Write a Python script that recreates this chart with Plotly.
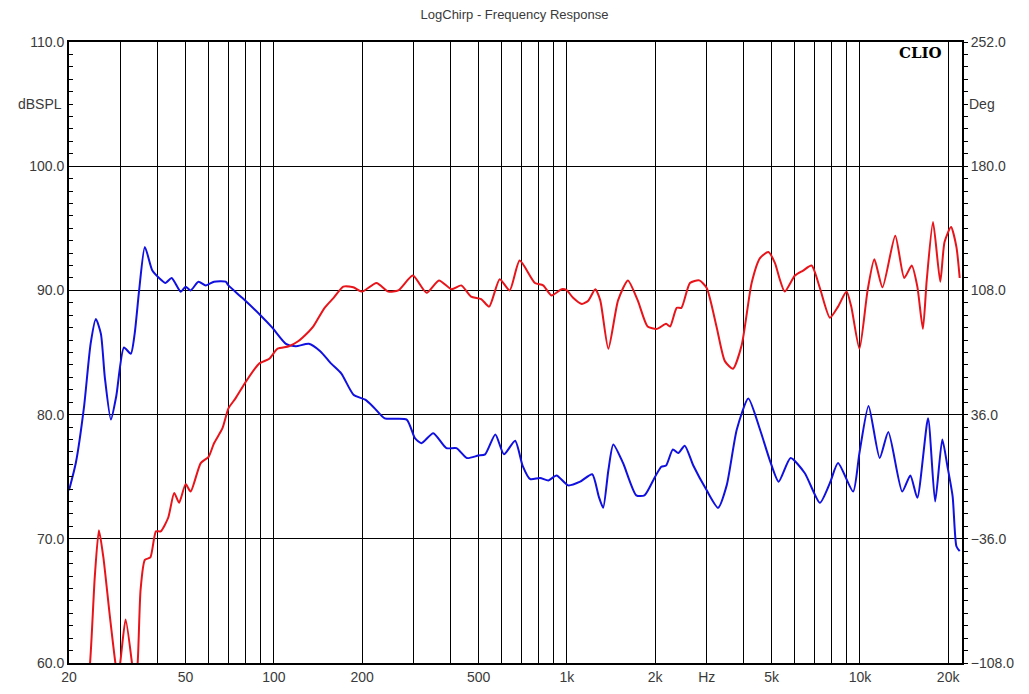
import math
import plotly.graph_objects as go

# SPL (blue, left axis, dBSPL)
spl_freq = [20, 21.1, 22.5, 23.7, 24.7, 25.7, 26.5, 27.8, 29, 30.8, 32.5, 33.5, 34.7, 36.3, 38.5,
            40.6, 42.7, 44.8, 48.1, 50, 52, 55.3, 58.6, 62.5, 68.5, 70, 78, 90, 98.8, 110, 118.8,
            131.7, 144, 157, 170, 187, 205, 219, 239, 284, 303, 319, 350, 388, 420, 456, 498, 526,
            570, 610, 666, 706, 750, 810, 865, 922, 1010, 1110, 1220, 1285, 1330, 1385, 1440, 1555,
            1725, 1840, 2000, 2100, 2180, 2300, 2400, 2525, 2700, 3000, 3280, 3510, 3800, 4160,
            4560, 4930, 5280, 5800, 6480, 7300, 7900, 8420, 9480, 9960, 10700, 11680, 12500,
            13940, 14860, 15700, 17080, 18060, 19100, 19900, 20720, 21340, 21900]
spl_db = [73.9, 76.1, 80.6, 85.7, 87.7, 86.5, 83.0, 79.6, 81.5, 85.4, 84.9, 86.5, 90.0, 93.5, 91.6,
          91.0, 90.6, 91.0, 89.9, 90.3, 90.0, 90.7, 90.4, 90.7, 90.7, 90.4, 89.4, 88.0, 87.0, 85.7, 85.5,
          85.7, 85.1, 84.1, 83.3, 81.6, 81.2, 80.6, 79.7, 79.6, 78.1, 77.7, 78.5, 77.3, 77.3, 76.5, 76.7, 76.8,
          78.4, 76.8, 77.9, 75.9, 74.8, 74.9, 74.7, 75.1, 74.3, 74.6, 75.2, 73.4, 72.5, 75.5, 77.6, 76.1,
          73.5, 73.5, 75.0, 75.8, 75.9, 77.2, 76.9, 77.5, 75.9, 73.9, 72.5, 74.3, 78.8, 81.3,
          78.8, 76.3, 74.6, 76.5, 75.3, 72.9, 74.5, 76.1, 73.8, 76.9, 80.7, 76.5, 78.6,
          73.8, 75.1, 73.3, 79.7, 73.0, 78.0, 75.8, 73.4, 69.4, 69.0]

# Phase (red, right axis, degrees)
ph_freq = [20, 22.5, 23.6, 24.5, 25.3, 26.2, 27.5, 28.8, 29.3, 29.9, 31.2, 32.8, 33.5, 34.3, 35.1,
           36.3, 37.9, 39.6, 41.1, 43.6, 45.7, 47.5, 50, 52, 56.3, 59.9, 62.5, 66.8, 70, 74, 80, 89,
           96.5, 103, 112.6, 121, 131.7, 136.4, 149, 160, 172.6, 186.6, 200, 224, 246, 266, 298, 332,
           366, 404, 436, 471, 510, 543, 590, 638, 690, 778, 830, 886, 960, 1000, 1050, 1125, 1185,
           1250, 1300, 1385, 1495, 1615, 1745, 1885, 2030, 2180, 2250, 2370, 2460, 2630, 2830, 3000,
           3240, 3460, 3690, 3950, 4270, 4560, 4870, 5130, 5310, 5540, 6000, 6400, 6840, 7300, 7900,
           8420, 9000, 9340, 9960, 10620, 11200, 11940, 13200, 14160, 15020, 15700, 16400, 16900,
           17760, 18800, 19440, 20460, 21340, 21900]
ph_deg = [-170, -140, -108, -57.6, -31.0, -46.8, -79.2, -108, -115.2, -108, -82.8, -108, -122.4, -108, -65.5,
          -48.2, -46.8, -31.7, -31.7, -23.8, -9.4, -15.1, -4.3, -8.6, 7.9, 11.5, 19.4, 28.1, 39.6, 45.4, 54.7, 65.5,
          68.4, 74.2, 75.6, 78.5, 84.2, 87.1, 97.9, 103.7, 110.2, 109.8, 107.3, 112.3, 107.3, 108.0, 116.6, 106.6,
          113.8, 108.7, 110.9, 104.4, 103.0, 98.6, 114.5, 108.0, 125.3, 112.3, 110.9, 105.1, 108.7, 108.0, 103.7, 100.1, 102.2,
          108.7, 102.2, 74.2, 102.2, 113.8, 102.2, 87.1, 85.7, 88.6, 87.1, 97.9, 97.9, 112.3, 113.8, 109.4,
          87.1, 67.0, 62.6, 76.3, 112.3, 126.7, 130.3, 123.8, 115.2, 107.3, 116.6, 119.5, 122.4, 109.4, 92.2,
          98.6, 107.3, 98.6, 74.2, 108.0, 126.0, 109.8, 139.7, 115.2, 122.4, 110.2, 85.7, 113.8,
          147.6, 113.0, 136.1, 144.7, 133.2, 115.2]

x_tickvals = [20, 50, 100, 200, 500, 1000, 2000, 3000, 5000, 10000, 20000]
x_ticktext = ["20", "50", "100", "200", "500", "1k", "2k", "Hz", "5k", "10k", "20k"]
x_gridvals = [30, 40, 60, 70, 80, 90, 300, 400, 600, 700, 800, 900,
              4000, 6000, 7000, 8000, 9000]
deg_ticks = [-108, -36, 36, 108, 180, 252]

FONT = "Liberation Sans, Arial, sans-serif"
TXT = "#3a3a3a"

fig = go.Figure()
fig.add_trace(go.Scatter(x=ph_freq, y=ph_deg, mode="lines", yaxis="y2",
                         line=dict(color="#e8141a", width=2, shape="spline", smoothing=0.6),
                         showlegend=False, hoverinfo="skip"))
fig.add_trace(go.Scatter(x=spl_freq, y=spl_db, mode="lines",
                         line=dict(color="#1010e0", width=2, shape="spline", smoothing=0.6),
                         showlegend=False, hoverinfo="skip"))

fig.update_layout(
    width=1029, height=694,
    margin=dict(l=69, r=67, t=42, b=31, autoexpand=False),
    paper_bgcolor="white", plot_bgcolor="white",
    font=dict(family=FONT, size=14, color=TXT),
    title=dict(text="LogChirp - Frequency Response", x=0.5, xanchor="center",
               y=1 - 14 / 694, yanchor="middle", font=dict(size=13, color=TXT)),
    xaxis=dict(type="log", range=[math.log10(20), math.log10(22300)],
               tickmode="array", tickvals=x_tickvals, ticktext=x_ticktext,
               showgrid=True, gridcolor="#000000", gridwidth=1,
               minor=dict(tickmode="array", tickvals=x_gridvals, showgrid=True,
                          gridcolor="#000000", gridwidth=1, ticks=""),
               ticks="", showline=True, linecolor="#000000", linewidth=2, mirror=True,
               zeroline=False, tickfont=dict(size=14, color=TXT)),
    yaxis=dict(range=[60, 110], tickmode="linear", tick0=60, dtick=10, tickformat=".1f",
               showgrid=True, gridcolor="#000000", gridwidth=1,
               ticks="inside", ticklen=4, tickcolor="#000000",
               minor=dict(dtick=1, ticks="inside", ticklen=4, tickcolor="#000000", showgrid=False),
               showline=True, linecolor="#000000", linewidth=2, mirror=True,
               zeroline=False, tickfont=dict(size=14, color=TXT)),
    yaxis2=dict(range=[-108, 252], overlaying="y", side="right",
                tickmode="array", tickvals=deg_ticks, tickformat=".1f",
                showgrid=False, ticks="outside", ticklen=5, tickcolor="#000000",
                minor=dict(tickmode="linear", tick0=-108, dtick=7.2, ticks="outside",
                           ticklen=5, tickcolor="#000000", showgrid=False),
                showline=False, zeroline=False, tickfont=dict(size=14, color=TXT)),
)

fig.add_annotation(text="dBSPL", xref="paper", x=0, xanchor="right", xshift=-5,
                   yref="y", y=105, yanchor="middle", showarrow=False,
                   font=dict(size=14, color=TXT, family=FONT))
fig.add_annotation(text="Deg", xref="paper", x=1, xanchor="left", xshift=5,
                   yref="y", y=105, yanchor="middle", showarrow=False,
                   font=dict(size=14, color=TXT, family=FONT))
fig.add_annotation(text="<b>CLIO</b>", xref="paper", x=0.9795, xanchor="right",
                   yref="paper", y=0.982, yanchor="middle", showarrow=False,
                   font=dict(size=15, color="#000000", family="DejaVu Serif, Liberation Serif, serif"))

fig.write_html("out.html", config={"displayModeBar": False},
               post_script="document.body.style.margin='0';document.body.style.overflow='hidden';")
